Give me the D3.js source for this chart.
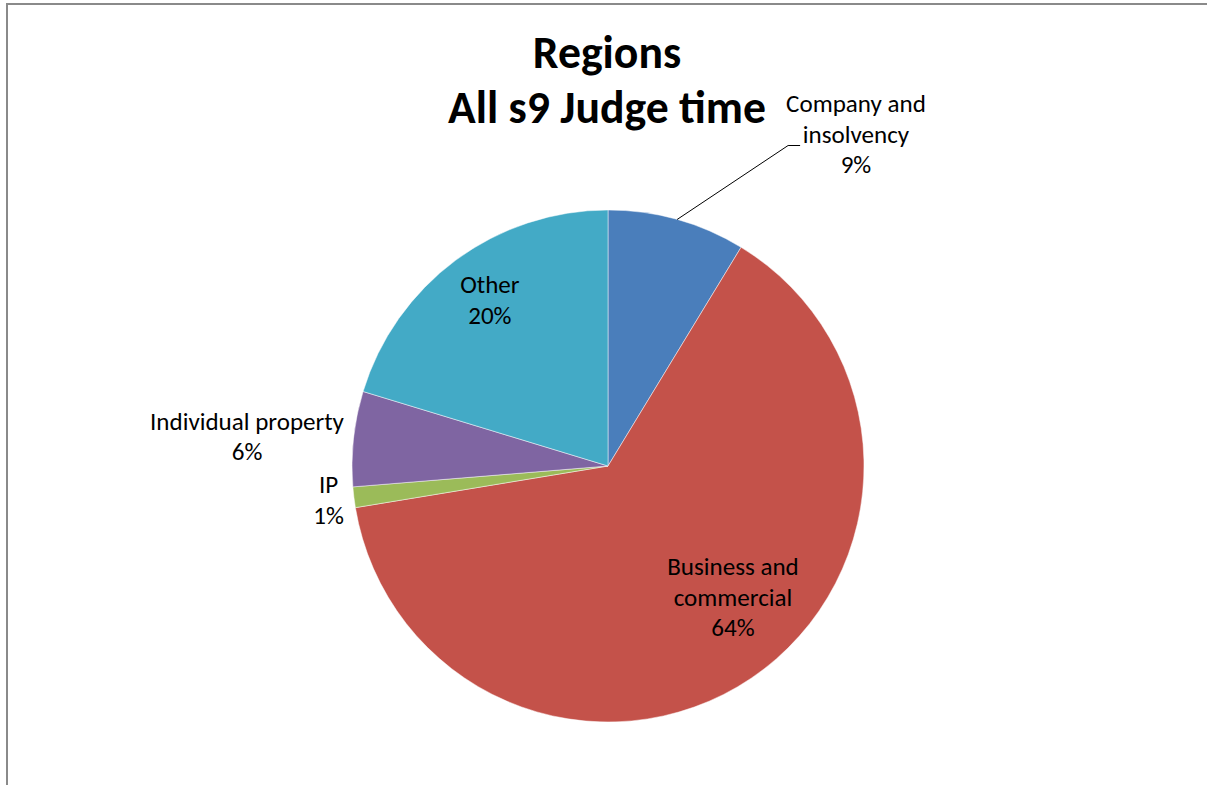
<!DOCTYPE html>
<html>
<head>
<meta charset="utf-8">
<script src="https://cdn.jsdelivr.net/npm/d3@7"></script>
<style>
  html, body { margin: 0; padding: 0; background: #fff; }
  svg { display: block; }
</style>
</head>
<body>
<svg id="chart" width="1207" height="785"></svg>
<script>
// ---- Data ----
const titleLines = ["Regions", "All s9 Judge time"];
const categories = ["Company and insolvency", "Business and commercial", "IP", "Individual property", "Other"];
const labelLines = [["Company and", "insolvency"], ["Business and", "commercial"], ["IP"], ["Individual property"], ["Other"]];
const values = [8.7, 63.7, 1.3, 6.0, 20.3];
const colors = ["#4A7EBB", "#C4524A", "#9BBB59", "#7F65A2", "#43AAC6"];

// ---- Layout / style ----
const W = 1207, H = 785;
const cx = 608, cy = 466, R = 256;
const FONT = "Calibri, Carlito, Lato, 'Open Sans', sans-serif";
const lineGap = 30.5;
// label placement rules per slice
const labelLayout = [
  { type: "leader", elbowDx: 111, elbowDy: -74, tail: 12, blockDx: -2, blockDy: -9.5 },
  { type: "inside", rf: 0.713, nudgeDeg: -9.2 },
  { type: "left", gap: 10, dy: 4.5 },
  { type: "left", gap: 9.5, dy: 0 },
  { type: "inside", rf: 0.79, nudgeDeg: 0.8 }
];

const svg = d3.select("#chart");

// frame
svg.append("rect")
  .attr("x", 7).attr("y", 4).attr("width", W + 20).attr("height", H + 20)
  .attr("fill", "none").attr("stroke", "#8a8a8a").attr("stroke-width", 2);

// font fitting helpers
function measure(text, size, weight) {
  const t = svg.append("text").attr("font-family", FONT).attr("font-size", size)
    .attr("font-weight", weight).text(text);
  const w = t.node().getComputedTextLength();
  t.remove();
  return w;
}
const titleSize = 100 * 318 / measure(titleLines[1], 100, "bold");
const labelSize = 100 * 194 / measure("Individual property", 100, "normal");

// title
const titleG = svg.append("g");
titleG.selectAll("text").data(titleLines).join("text")
  .attr("x", 607)
  .attr("y", (d, i) => 68 + i * 55)
  .attr("text-anchor", "middle")
  .attr("font-family", FONT)
  .attr("font-weight", "bold")
  .attr("font-size", titleSize)
  .attr("fill", "#000")
  .text(d => d);

// pie
const total = d3.sum(values);
const pie = d3.pie().sort(null).value(d => d).startAngle(0).endAngle(2 * Math.PI);
const arcs = pie(values);
const arc = d3.arc().innerRadius(0).outerRadius(R);

const g = svg.append("g").attr("transform", `translate(${cx},${cy})`);
g.selectAll("path").data(arcs).join("path")
  .attr("d", arc)
  .attr("fill", (d, i) => colors[i])
  .attr("stroke", "rgba(255,255,255,0.6)")
  .attr("stroke-width", 0.8);

const pct = d3.format(".0%");
function polar(angle, r) { return [r * Math.sin(angle), -r * Math.cos(angle)]; }

const labelsG = g.append("g");
arcs.forEach((a, i) => {
  const lines = labelLines[i].concat([pct(a.value / total)]);
  const lay = labelLayout[i];
  const mid = (a.startAngle + a.endAngle) / 2;
  const widths = lines.map(l => measure(l, labelSize, "normal"));
  const bw = d3.max(widths);
  let bx, by; // block centre
  if (lay.type === "inside") {
    [bx, by] = polar(mid + lay.nudgeDeg * Math.PI / 180, R * lay.rf);
  } else if (lay.type === "left") {
    const [ex, ey] = polar(mid, R);
    bx = ex - lay.gap - bw / 2;
    by = ey + lay.dy;
  } else {
    const [ex, ey] = polar(mid, R);
    const elx = ex + lay.elbowDx, ely = ey + lay.elbowDy;
    labelsG.append("path")
      .attr("d", d3.line()([[ex, ey], [elx, ely], [elx + lay.tail, ely]]))
      .attr("fill", "none").attr("stroke", "#000").attr("stroke-width", 1);
    bx = elx + lay.blockDx + bw / 2;
    by = ely + lay.blockDy;
  }
  const n = lines.length;
  const firstBase = by - (n - 1) * lineGap / 2 + 6.5;
  labelsG.append("g").selectAll("text").data(lines).join("text")
    .attr("x", bx)
    .attr("y", (d, k) => firstBase + k * lineGap)
    .attr("text-anchor", "middle")
    .attr("font-family", FONT)
    .attr("font-size", labelSize)
    .attr("fill", "#000")
    .text(d => d);
});
</script>
</body>
</html>
